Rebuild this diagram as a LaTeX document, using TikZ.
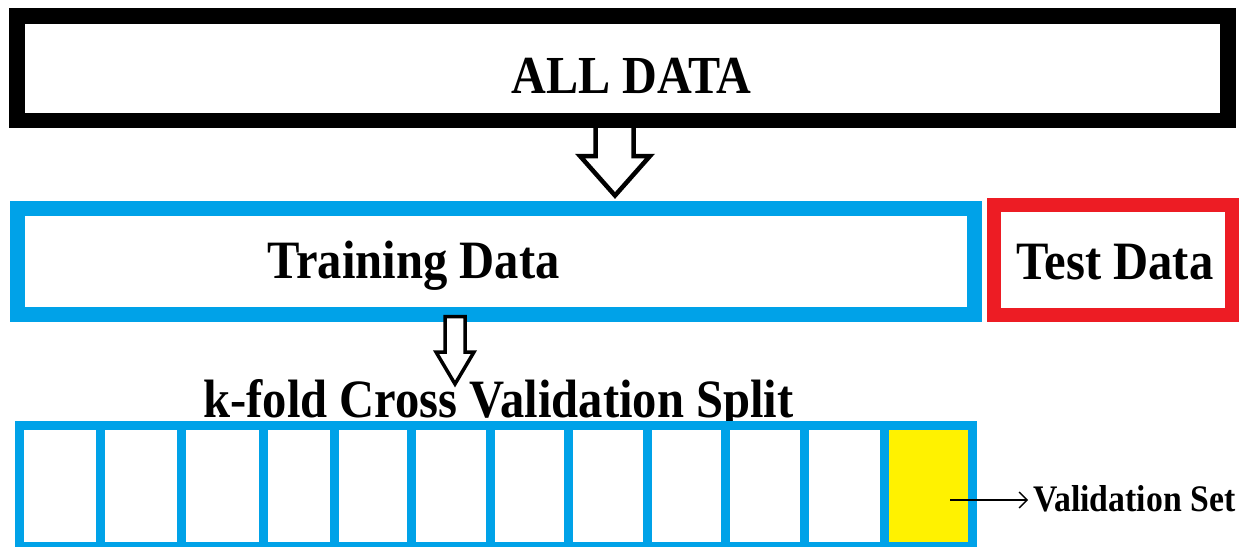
\documentclass[tikz,border=0pt]{standalone}
\usepackage{fontspec}
\newfontfamily\tnr[FakeStretch=0.9]{Liberation Serif}
\usetikzlibrary{arrows.meta,calc}
\definecolor{pblue}{RGB}{0,162,232}
\definecolor{pred}{RGB}{237,28,36}
\definecolor{pyellow}{RGB}{255,242,0}
\tikzset{
  bigbox/.style={draw, rectangle, inner sep=0pt, outer sep=0pt, fill=white},
  lbl/.style={inner sep=0pt, outer sep=0pt, anchor=base, font=\tnr\bfseries\fontsize{54}{60}\selectfont},
  cell/.style={draw=pblue, line width=9pt, rectangle, inner sep=0pt, outer sep=0pt, minimum height=121pt},
  blockarrow/.style={draw=black, fill=white, line join=miter},
}
\begin{document}
\begin{tikzpicture}[x=1pt,y=-1pt]
\useasboundingbox (0,0) rectangle (1247,546);
% block arrow 1 (drawn before the boxes so the boxes cover its ends)
\coordinate (a1) at (614.5,124);
\coordinate (a1tip) at (615,195.5);
\draw[blockarrow, line width=4.5pt]
  ($(a1)+(-19,0)$) -- ($(a1)+(-19,32)$) -- ($(a1)+(-34.5,32)$) -- (a1tip)
  -- ($(a1)+(35.5,32)$) -- ($(a1)+(19,32)$) -- ($(a1)+(19,0)$);
% boxes
\node[bigbox, line width=15.5pt, minimum width=1211pt, minimum height=104.5pt] (all) at (622.5,68.25) {};
\node[bigbox, draw=pblue, line width=15pt, minimum width=957pt, minimum height=106.7pt] (train) at (495.5,261.6) {};
\node[bigbox, draw=pred, line width=14pt, minimum width=238pt, minimum height=109.5pt] (test) at (1112.5,259.75) {};
% labels
\node[lbl, font=\tnr\bfseries\fontsize{53.5}{60}\selectfont] (alllbl) at (631.5,93) {ALL DATA};
\node[lbl] (trainlbl) at (413.5,278) {Training Data};
\node[lbl] (testlbl) at (1115,279) {Test Data};
\node[lbl] (klbl) at (498.5,417) {k-fold Cross Validation Split};
% k-fold cells
\node[cell, minimum width=80.5pt] (c1) at (59.75,486) {};
\node[cell, minimum width=81pt] (c2) at (140.5,486) {};
\node[cell, minimum width=82pt] (c3) at (222,486) {};
\node[cell, minimum width=71pt] (c4) at (298.5,486) {};
\node[cell, minimum width=77pt] (c5) at (372.5,486) {};
\node[cell, minimum width=79pt] (c6) at (450.5,486) {};
\node[cell, minimum width=78pt] (c7) at (529,486) {};
\node[cell, minimum width=79pt] (c8) at (607.5,486) {};
\node[cell, minimum width=78pt] (c9) at (686,486) {};
\node[cell, minimum width=79pt] (c10) at (764.5,486) {};
\node[cell, minimum width=80pt] (c11) at (844,486) {};
\node[cell, fill=pyellow, minimum width=88.5pt] (c12) at (928.25,486) {};
% block arrow 2
\coordinate (a2) at (455,316.5);
\coordinate (a2tip) at (455,384);
\draw[blockarrow, line width=3.5pt]
  ($(a2)+(-10,0)$) -- ($(a2)+(-10,35.5)$) -- ($(a2)+(-19,35.5)$) -- (a2tip)
  -- ($(a2)+(19,35.5)$) -- ($(a2)+(10,35.5)$) -- ($(a2)+(10,0)$) -- cycle;
% validation set
\node[lbl, anchor=base west, font=\tnr\bfseries\fontsize{37.5}{42}\selectfont] (vlbl) at (1033,511) {Validation Set};
\coordinate (vstart) at (950,500);
\draw[line width=1.6pt, -{Straight Barb[length=8pt,width=16pt,line width=1.3pt]}, shorten >=5pt] (vstart) -- (vstart -| vlbl.west);
\end{tikzpicture}
\end{document}
